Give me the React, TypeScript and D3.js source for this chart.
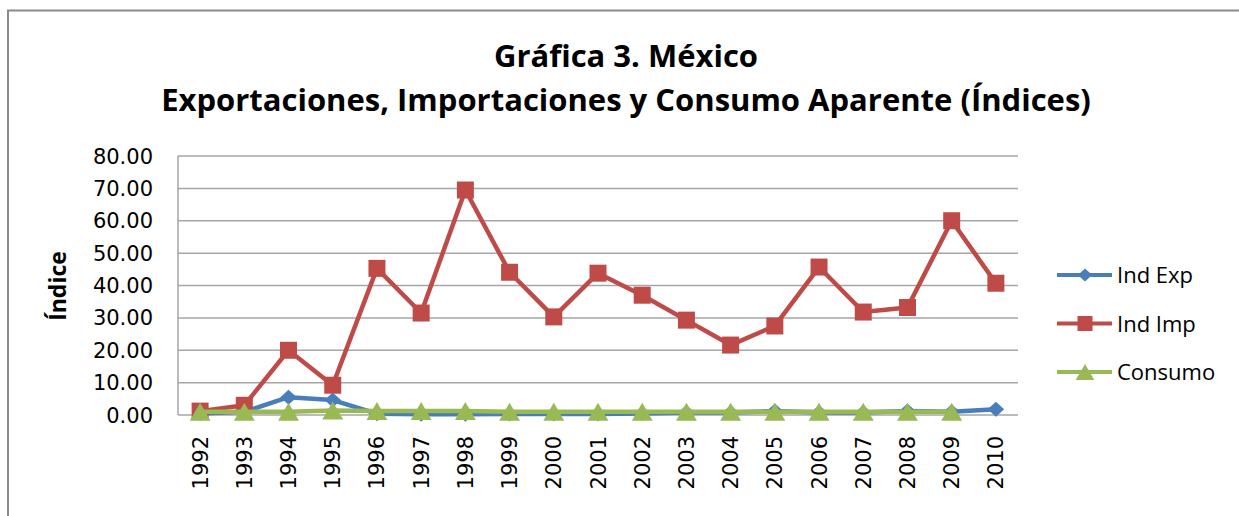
import * as d3 from "d3";

const years = [
  "1992", "1993", "1994", "1995", "1996", "1997", "1998", "1999", "2000", "2001",
  "2002", "2003", "2004", "2005", "2006", "2007", "2008", "2009", "2010",
];
const indExp = [0.5, 1.0, 5.5, 4.6, 0.4, 0.2, 0.2, 0.3, 0.3, 0.3, 0.5, 0.8, 0.8, 1.2, 0.8, 0.8, 1.2, 1.0, 1.8];
const indImp = [1.2, 3.0, 20.0, 9.2, 45.3, 31.5, 69.5, 44.1, 30.3, 43.8, 37.0, 29.3, 21.6, 27.5, 45.7, 31.8, 33.2, 60.0, 40.7];
const consumo = [1.0, 1.0, 1.0, 1.4, 1.2, 1.2, 1.2, 1.0, 1.0, 1.0, 1.0, 1.0, 1.0, 1.0, 1.0, 1.0, 1.0, 1.0, null];
const yTicks = [0, 10, 20, 30, 40, 50, 60, 70, 80];

const W = 1239;
const H = 516;
const plot = { left: 178, right: 1018, top: 156, bottom: 415 };

const x = d3.scaleBand().domain(years).range([plot.left, plot.right]).padding(0);
const y = d3.scaleLinear().domain([0, 80]).range([plot.bottom, plot.top]);
const cx = (yr: string) => (x(yr) ?? 0) + x.bandwidth() / 2;

type Marker = "diamond" | "square" | "triangle";
const series: { name: string; color: string; marker: Marker; values: (number | null)[] }[] = [
  { name: "Ind Exp", color: "#4A7EBB", marker: "diamond", values: indExp },
  { name: "Ind Imp", color: "#BE4B48", marker: "square", values: indImp },
  { name: "Consumo", color: "#98B954", marker: "triangle", values: consumo },
];

function markerPath(m: Marker, px: number, py: number, s: number) {
  const p = d3.path();
  if (m === "square") {
    p.rect(px - s / 2, py - s / 2, s, s);
  } else if (m === "diamond") {
    const w = s * 0.55;
    const h = s * 0.5;
    p.moveTo(px, py - h);
    p.lineTo(px + w, py);
    p.lineTo(px, py + h);
    p.lineTo(px - w, py);
    p.closePath();
  } else {
    const w = s * 0.58;
    p.moveTo(px, py - s * 0.5);
    p.lineTo(px + w, py + s * 0.5);
    p.lineTo(px - w, py + s * 0.5);
    p.closePath();
  }
  return p.toString();
}

const sizes: Record<Marker, number> = { diamond: 15, square: 17, triangle: 18 };

export default function App() {
  const line = d3
    .line<number | null>()
    .defined((d) => d !== null)
    .x((_, i) => cx(years[i]))
    .y((d) => y(d as number));

  return (
    <svg
      width={W}
      height={H}
      style={{ position: "absolute", left: 0, top: 0, background: "#fff" }}
    >
      <rect x={8} y={10.5} width={W + 10} height={H + 10} fill="#fff" stroke="#8a8a8a" strokeWidth={2} />

      <g fontFamily="'Open Sans', sans-serif" fontWeight={700} fontSize={31} fill="#000" textAnchor="middle">
        <text x={626} y={67}>Gráfica 3. México</text>
        <text x={626} y={111}>Exportaciones, Importaciones y Consumo Aparente (Índices)</text>
      </g>

      {yTicks.map((t) => (
        <line key={t} x1={plot.left} x2={plot.right} y1={y(t)} y2={y(t)} stroke="#a6a6a6" strokeWidth={1.5} />
      ))}
      <line x1={plot.left} x2={plot.left} y1={plot.top} y2={plot.bottom} stroke="#a6a6a6" strokeWidth={1.5} />

      <g fontFamily="'DejaVu Sans', sans-serif" fontSize={21} fill="#000" textAnchor="end">
        {yTicks.map((t) => (
          <text key={t} x={153} y={y(t) + 7.5}>{d3.format(".2f")(t)}</text>
        ))}
      </g>

      <g fontFamily="'DejaVu Sans', sans-serif" fontSize={21} fill="#000" textAnchor="end">
        {years.map((yr) => (
          <text key={yr} transform={`translate(${cx(yr) + 7.5},${436}) rotate(-90)`}>{yr}</text>
        ))}
      </g>

      <text
        transform={`translate(${66},${286}) rotate(-90)`}
        fontFamily="'Open Sans', sans-serif"
        fontWeight={700}
        fontSize={23}
        textAnchor="middle"
      >
        Índice
      </text>

      {series.map((s) => (
        <g key={s.name}>
          <path d={line(s.values) ?? ""} fill="none" stroke={s.color} strokeWidth={4.5} strokeLinejoin="round" />
          {s.values.map((v, i) =>
            v === null ? null : (
              <path key={i} d={markerPath(s.marker, cx(years[i]), y(v), sizes[s.marker])} fill={s.color} />
            )
          )}
        </g>
      ))}

      <g fontFamily="'Open Sans', sans-serif" fontSize={22} fill="#000">
        {series.map((s, i) => {
          const ly = 275 + i * 48.5;
          return (
            <g key={s.name}>
              <line x1={1057} x2={1112} y1={ly} y2={ly} stroke={s.color} strokeWidth={4} />
              <path d={markerPath(s.marker, 1085, ly, sizes[s.marker] - 2)} fill={s.color} />
              <text x={1117} y={ly + 8}>{s.name}</text>
            </g>
          );
        })}
      </g>
    </svg>
  );
}
